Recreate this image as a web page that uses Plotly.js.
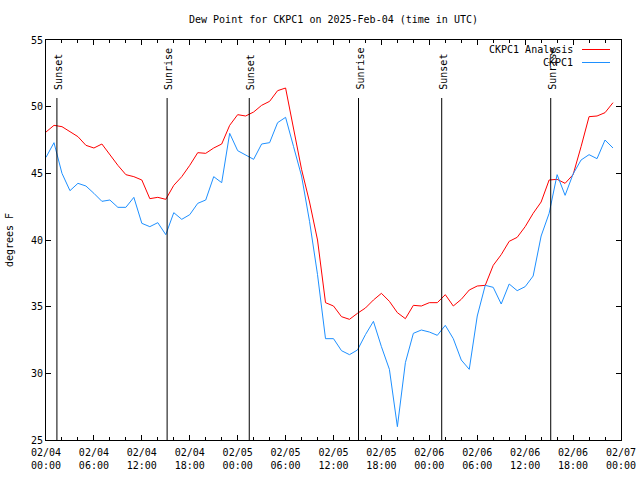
<!DOCTYPE html>
<html><head><meta charset="utf-8">
<script src="https://cdn.plot.ly/plotly-3.0.1.min.js"></script>
<style>html,body{margin:0;padding:0;background:#fff}#chart{width:640px;height:480px}</style>
</head><body><div id="chart"></div>
<script>
// Hourly values starting 2025-02-04 00:00 UTC
const startUTC = Date.UTC(2025, 1, 4, 0, 0);
const analysisDewpoint = [
  48.1, 48.6, 48.5, 48.1, 47.75, 47.1, 46.9, 47.2, 46.4, 45.6, 44.9, 44.75,
  44.5, 43.1, 43.2, 43.05, 44.1, 44.75, 45.6, 46.55, 46.5, 46.9, 47.2, 48.6,
  49.4, 49.3, 49.6, 50.1, 50.4, 51.2, 51.4, 48.2, 45.3, 42.85, 40.0, 35.3,
  35.05, 34.25, 34.05, 34.5, 34.9, 35.5, 36.0, 35.4, 34.55, 34.1, 35.1, 35.05,
  35.3, 35.3, 35.9, 35.05, 35.55, 36.25, 36.55, 36.6, 38.1, 38.9, 39.9, 40.2,
  41.0, 42.0, 42.85, 44.5, 44.55, 44.25, 44.9, 47.0, 49.25, 49.3, 49.55, 50.3
];
const observedDewpoint = [
  46.2, 47.3, 45.0, 43.7, 44.25, 44.05, 43.5, 42.9, 43.0, 42.45, 42.45, 43.2,
  41.25, 41.0, 41.3, 40.4, 42.05, 41.55, 41.9, 42.75, 43.0, 44.75, 44.3, 48.0,
  46.7, 46.35, 46.05, 47.2, 47.3, 48.8, 49.2, 47.0, 44.8, 41.4, 37.4, 32.6,
  32.6, 31.7, 31.4, 31.75, 32.9, 33.9, 32.0, 30.3, 26.0, 30.8, 33.0, 33.25,
  33.1, 32.85, 33.6, 32.6, 31.0, 30.3, 34.3, 36.6, 36.45, 35.2, 36.7, 36.2,
  36.5, 37.3, 40.3, 42.0, 44.9, 43.35, 44.95, 46.0, 46.4, 46.1, 47.5, 46.9
];
const seriesNames = ['CKPC1 Analysis', 'CKPC1'];
const seriesColors = ['#ff0000', '#1e90ff'];
const sunsetTimes = ['2025-02-04 01:22', '2025-02-05 01:27', '2025-02-06 01:33'];
const sunriseTimes = ['2025-02-04 15:10', '2025-02-05 15:08', '2025-02-06 15:12'];
const xRange = ['2025-02-04 00:00', '2025-02-07 00:00'];
const yRange = [25, 55];

function hourTime(h) {
  return new Date(startUTC + h * 3600000).toISOString().slice(0, 16).replace('T', ' ');
}
const times = analysisDewpoint.map((_, i) => hourTime(i));

const FONT = 'DejaVu Sans Mono, monospace';
const L = 46, R = 621, T = 40, B = 440;
const px = x => (x - L) / (R - L);
const py = y => (B - y) / (B - T);

const traces = [
  {x: times, y: analysisDewpoint, name: seriesNames[0], type: 'scatter', mode: 'lines',
   line: {color: seriesColors[0], width: 1}},
  {x: times, y: observedDewpoint, name: seriesNames[1], type: 'scatter', mode: 'lines',
   line: {color: seriesColors[1], width: 1}}
];

const shapes = [];
const annotations = [];
function addSunLine(t, label) {
  shapes.push({type: 'line', xref: 'x', yref: 'paper', x0: t, x1: t, y0: 0, y1: py(98),
    line: {color: '#000', width: 1}});
  annotations.push({xref: 'x', yref: 'paper', x: t, y: py(92), text: label, textangle: -90,
    showarrow: false, xanchor: 'center', yanchor: 'bottom', xshift: 1,
    font: {family: FONT, size: 10, color: '#000'}});
}
sunsetTimes.forEach(t => addSunLine(t, 'Sunset'));
sunriseTimes.forEach(t => addSunLine(t, 'Sunrise'));

// legend (gnuplot style: text then sample line)
const legendRows = [49.5, 62.5];
seriesNames.forEach((n, i) => {
  annotations.push({xref: 'paper', yref: 'paper', x: px(575), y: py(legendRows[i]), text: n,
    showarrow: false, xanchor: 'right', yanchor: 'middle',
    font: {family: FONT, size: 10, color: '#000'}});
  shapes.push({type: 'line', xref: 'paper', yref: 'paper', x0: px(582), x1: px(610),
    y0: py(legendRows[i]), y1: py(legendRows[i]), line: {color: seriesColors[i], width: 1}});
});

const layout = {
  width: 640, height: 480,
  margin: {l: L, r: 640 - R, t: T, b: 480 - B},
  paper_bgcolor: '#fff', plot_bgcolor: '#fff',
  showlegend: false,
  font: {family: FONT, size: 10, color: '#000'},
  title: {text: 'Dew Point for CKPC1 on 2025-Feb-04 (time in UTC)',
    x: 0.5, xref: 'paper', y: 1 - 19 / 480, yref: 'container', yanchor: 'middle',
    font: {family: FONT, size: 10, color: '#000'}},
  xaxis: {type: 'date', range: xRange, tick0: xRange[0], dtick: 6 * 3600000,
    tickformat: '%m/%d<br>%H:%M', ticks: 'inside', ticklen: 5, tickcolor: '#000',
    ticklabelstandoff: 3,
    minor: {dtick: 2 * 3600000, ticks: 'inside', ticklen: 3, tickcolor: '#000'},
    showline: true, mirror: 'ticks', linecolor: '#000', linewidth: 1,
    showgrid: false, zeroline: false, fixedrange: true,
    tickfont: {family: FONT, size: 10, color: '#000'}},
  yaxis: {range: yRange, dtick: 5, ticks: 'inside', ticklen: 5, tickcolor: '#000',
    showline: true, mirror: 'ticks', linecolor: '#000', linewidth: 1,
    showgrid: false, zeroline: false, fixedrange: true,
    tickfont: {family: FONT, size: 10, color: '#000'},
    title: {text: 'degrees F', standoff: 15, font: {family: FONT, size: 10, color: '#000'}}},
  shapes: shapes,
  annotations: annotations
};

Plotly.newPlot('chart', traces, layout, {displayModeBar: false, staticPlot: true});
</script>
</body></html>
